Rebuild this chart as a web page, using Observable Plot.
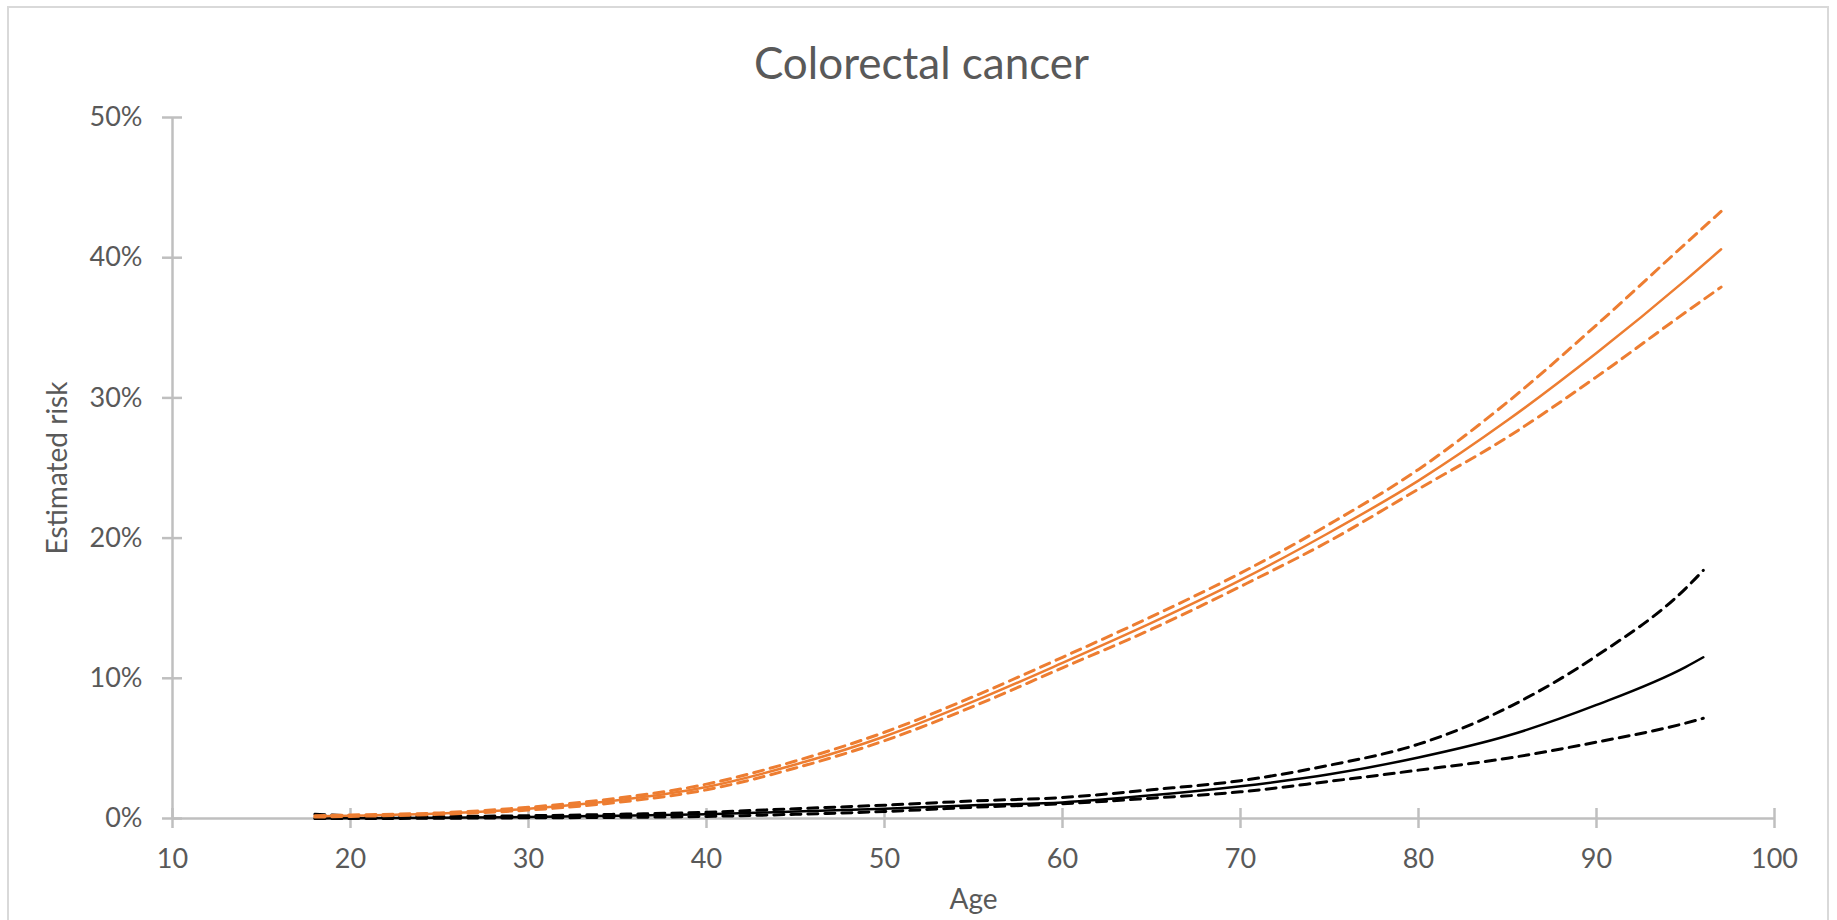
<!DOCTYPE html>
<html>
<head>
<meta charset="utf-8">
<script src="https://cdn.jsdelivr.net/npm/d3@7"></script>
<script src="https://cdn.jsdelivr.net/npm/@observablehq/plot@0.6"></script>
<style>
  html, body { margin: 0; padding: 0; background: #fff; overflow: hidden; }
  body { width: 1837px; height: 920px; position: relative; font-family: Lato, "Open Sans", sans-serif; }
  #frame { position: absolute; left: 7px; top: 6px; width: 1822px; height: 1000px; border: 2px solid #d9d9d9; box-sizing: border-box; pointer-events: none; }
  #title { height: 100px; box-sizing: border-box; padding-top: 40px; padding-left: 6px; text-align: center; font-size: 44px; line-height: 1; color: #595959; }
  #chart svg { display: block; }
</style>
</head>
<body>
<div id="title">Colorectal cancer</div>
<div id="chart"></div>
<div id="frame"></div>
<script>
// Tick values
const xTicks = [10, 20, 30, 40, 50, 60, 70, 80, 90, 100];
const yTicks = [0, 10, 20, 30, 40, 50];

// Orange series (estimated risk, %)
const agesOrange   = [18, 20, 25, 30, 35, 40, 45, 50, 55, 60, 65, 70, 75, 80, 85, 90, 95, 97];
const orangeMid    = [0.15, 0.2, 0.35, 0.7, 1.3, 2.25, 3.85, 5.85, 8.35, 11.1, 13.95, 17.0, 20.4, 24.1, 28.4, 33.2, 38.4, 40.6];
const orangeUpper  = [0.2, 0.25, 0.4, 0.8, 1.45, 2.45, 4.1, 6.15, 8.7, 11.5, 14.4, 17.5, 21.0, 24.9, 29.7, 35.2, 41.0, 43.3];
const orangeLower  = [0.1, 0.15, 0.3, 0.6, 1.15, 2.05, 3.6, 5.55, 8.0, 10.75, 13.5, 16.55, 19.8, 23.5, 27.2, 31.5, 36.1, 37.9];

// Black series (estimated risk, %)
const agesBlack    = [18, 20, 25, 30, 35, 40, 45, 50, 55, 60, 65, 70, 75, 80, 85, 90, 95, 96];
const blackMid     = [0, 0.02, 0.05, 0.1, 0.2, 0.3, 0.5, 0.7, 0.95, 1.15, 1.65, 2.3, 3.15, 4.35, 5.9, 8.1, 10.8, 11.5];
const blackUpper   = [0.3, 0.2, 0.15, 0.2, 0.3, 0.45, 0.7, 0.95, 1.25, 1.5, 2.05, 2.7, 3.8, 5.3, 7.9, 11.6, 16.4, 17.7];
const blackLower   = [0, 0, 0.02, 0.05, 0.08, 0.15, 0.3, 0.5, 0.8, 1.05, 1.45, 1.9, 2.65, 3.45, 4.3, 5.45, 6.8, 7.15];

const toRows = (ages, vals, series) => ages.map((a, i) => ({age: a, value: vals[i], series}));

const oMid = toRows(agesOrange, orangeMid, "orange-mid");
const oBand = [...toRows(agesOrange, orangeUpper, "orange-upper"), ...toRows(agesOrange, orangeLower, "orange-lower")];
const bMid = toRows(agesBlack, blackMid, "black-mid");
const bBand = [...toRows(agesBlack, blackUpper, "black-upper"), ...toRows(agesBlack, blackLower, "black-lower")];

const ORANGE = "#ED7D31";
const AXIS = "#bfbfbf";
const TEXT = "#595959";

const chart = Plot.plot({
  width: 1837,
  height: 820,
  marginTop: 17,
  marginBottom: 102,
  marginLeft: 172,
  marginRight: 63,
  x: {domain: [10, 100], label: null},
  y: {domain: [0, 50], label: null},
  style: {fontFamily: "Lato, 'Open Sans', sans-serif", fontSize: "27px", color: TEXT, background: "transparent"},
  marks: [
    Plot.ruleX([10], {stroke: AXIS, strokeWidth: 2.5}),
    Plot.ruleY([0], {stroke: AXIS, strokeWidth: 2.5}),
    Plot.axisY(yTicks, {tickSize: 20, dx: 10, tickFormat: () => "", stroke: AXIS, strokeWidth: 2.5}),
    Plot.axisY(yTicks, {tickSize: 0, tickPadding: 30, tickFormat: d => d + "%", fill: TEXT, fontSize: 27}),
    Plot.axisX(xTicks, {tickSize: 20, dy: -10, tickFormat: () => "", stroke: AXIS, strokeWidth: 2.5}),
    Plot.axisX(xTicks, {tickSize: 0, tickPadding: 30, fill: TEXT, fontSize: 27}),
    Plot.text(["Age"], {text: d => d, frameAnchor: "bottom", lineAnchor: "middle", dy: 82, fontSize: 28, fill: TEXT}),
    Plot.text(["Estimated risk"], {text: d => d, frameAnchor: "left", textAnchor: "middle", dx: -114, rotate: -90, fontSize: 28, fill: TEXT}),
    Plot.line(bBand, {x: "age", y: "value", z: "series", stroke: "#000", strokeWidth: 3, strokeDasharray: "10,7", curve: "monotone-x"}),
    Plot.line(bMid, {x: "age", y: "value", stroke: "#000", strokeWidth: 2.5, curve: "monotone-x"}),
    Plot.line(oBand, {x: "age", y: "value", z: "series", stroke: ORANGE, strokeWidth: 3, strokeDasharray: "10,7", curve: "monotone-x"}),
    Plot.line(oMid, {x: "age", y: "value", stroke: ORANGE, strokeWidth: 2.5, curve: "monotone-x"})
  ]
});
document.getElementById("chart").appendChild(chart);
</script>
</body>
</html>
